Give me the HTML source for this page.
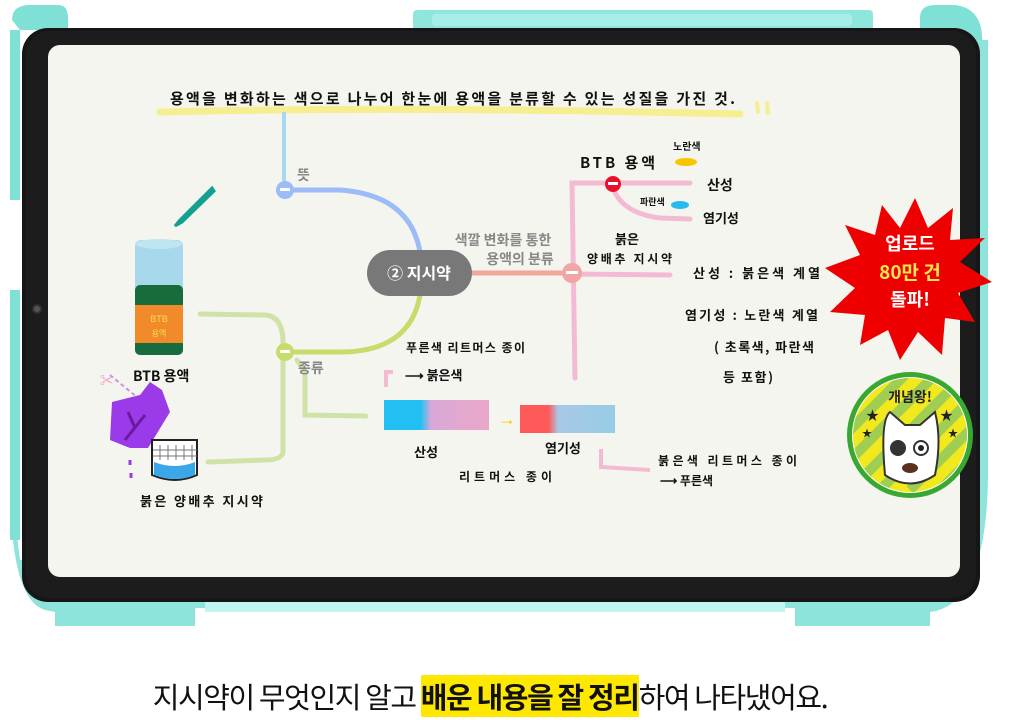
<!DOCTYPE html>
<html><head><meta charset="utf-8"><style>
body{margin:0;width:1030px;height:720px;background:#fff;overflow:hidden;font-family:"Liberation Sans","Noto Sans CJK KR",sans-serif;position:relative}
svg{position:absolute;left:0;top:0}
.h{font-family:"Noto Sans CJK KR","NanumGothic",sans-serif;fill:#111;font-weight:bold}
.g{font-family:"Noto Sans CJK KR",sans-serif;fill:#888;font-weight:bold}
#cap{position:absolute;left:0;width:980px;top:677px;text-align:center;font-family:"Noto Sans CJK KR",sans-serif;font-size:29px;letter-spacing:-1.4px;color:#111;line-height:38px;white-space:nowrap}
#cap b{background:#ffe800;font-weight:bold}
</style></head><body>
<svg width="1030" height="720" viewBox="0 0 1030 720">
<path d="M12 20 Q12 5 30 5 L58 5 Q68 5 68 18 L68 30 L20 30Z" fill="#7fe0d6"/>
<path d="M920 18 Q920 5 935 5 L955 5 Q980 8 982 35 L982 40 L920 40Z" fill="#7fe0d6"/>
<rect x="413" y="10" width="460" height="22" rx="4" fill="#8fe6dc"/>
<rect x="432" y="14" width="420" height="12" rx="3" fill="#a6efe7"/>
<path d="M10 480 Q10 600 45 610 L55 612 L55 626 L195 626 L195 608 L795 608 L795 626 L930 626 L930 612 Q988 605 988 470 L988 40 L970 40 L970 560 L20 560 Z" fill="#8ee3da"/>
<rect x="10" y="30" width="10" height="170" fill="#7fe0d6"/>
<rect x="10" y="290" width="10" height="250" fill="#7fe0d6"/>
<rect x="205" y="598" width="580" height="14" fill="#c3f5f0"/>
<rect x="22" y="28" width="958" height="574" rx="26" fill="#161616"/>
<rect x="26" y="31" width="950" height="567" rx="24" fill="#1c1c1c"/>
<circle cx="37" cy="309" r="4" fill="#555" stroke="#333" stroke-width="2"/>
<rect x="48" y="45" width="912" height="532" rx="12" fill="#f5f5f0"/>

<path d="M160 112 Q400 106 740 114" stroke="#f7ee92" stroke-width="7" fill="none" stroke-linecap="round"/>
<path d="M757 103 l1 9 M767 103 l1 10" stroke="#f7ee92" stroke-width="4" stroke-linecap="round"/>
<text x="170" y="104" class="h" font-size="15" textLength="565" lengthAdjust="spacing">용액을 변화하는 색으로  나누어  한눈에 용액을 분류할 수 있는 성질을 가진 것.</text>

<path d="M284 112 L284 188" stroke="#a8d8f0" stroke-width="4" fill="none"/>
<path d="M285 190 L340 190 Q410 195 420 252" stroke="#9bbcf7" stroke-width="5" fill="none"/>
<circle cx="285" cy="190" r="9" fill="#9bbcf7"/><rect x="280" y="188" width="10" height="3" fill="#fff"/>
<text x="297" y="180" class="g" font-size="14">뜻</text>
<path d="M420 295 Q410 352 340 352 L285 352" stroke="#c8dc6c" stroke-width="5" fill="none"/>
<path d="M200 314 L265 315 Q282 316 283 340 L283 452 Q282 460 265 460 L208 462 M297 360 L305 372 L305 415 L366 416" stroke="#cfe3a8" stroke-width="5" fill="none" stroke-linecap="round"/>
<circle cx="285" cy="352" r="9" fill="#c8dc6c"/><rect x="280" y="350" width="10" height="3" fill="#fff"/>
<text x="298" y="373" class="g" font-size="14">종류</text>
<rect x="367" y="250" width="105" height="46" rx="23" fill="#787878"/>
<text x="419" y="279" text-anchor="middle" fill="#fff" font-weight="bold" font-size="16" font-family="Noto Sans CJK KR,sans-serif">② 지시약</text>
<path d="M472 273 L572 273" stroke="#f2a59a" stroke-width="5"/>
<text x="503" y="245" text-anchor="middle" class="g" font-size="14">색깔 변화를 통한</text>
<text x="520" y="264" text-anchor="middle" class="g" font-size="14">용액의 분류</text>
<path d="M575 378 L572 183 L690 183 M612 185 Q620 213 660 218 L690 219 M572 274 L670 275" stroke="#f3bbd3" stroke-width="5" fill="none" stroke-linecap="round"/>
<circle cx="572" cy="273" r="10" fill="#f2a5a5"/><rect x="566" y="271" width="12" height="3" fill="#fff"/>
<circle cx="613" cy="184" r="8" fill="#e8102a"/><rect x="608" y="182" width="10" height="3" fill="#fff"/>
<text x="580" y="168" class="h" font-size="15" textLength="75" lengthAdjust="spacing">BTB 용액</text>
<text x="673" y="150" class="h" font-size="10">노란색</text>
<ellipse cx="686" cy="162" rx="11" ry="4" fill="#f8c600"/>
<text x="707" y="190" class="h" font-size="14">산성</text>
<text x="640" y="205" class="h" font-size="9">파란색</text>
<ellipse cx="680" cy="205" rx="9" ry="4" fill="#2ab8f0"/>
<text x="703" y="223" class="h" font-size="13">염기성</text>
<text x="615" y="244" class="h" font-size="13">붉은</text>
<text x="587" y="263" class="h" font-size="12" textLength="85" lengthAdjust="spacing">양배추 지시약</text>
<text x="693" y="278" class="h" font-size="13" textLength="127" lengthAdjust="spacing">산성 :  붉은색 계열</text>
<text x="685" y="320" class="h" font-size="13" textLength="133" lengthAdjust="spacing">염기성 : 노란색 계열</text>
<text x="714" y="352" class="h" font-size="13" textLength="100" lengthAdjust="spacing">( 초록색, 파란색</text>
<text x="723" y="382" class="h" font-size="13" textLength="50" lengthAdjust="spacing">등 포함)</text>
<text x="406" y="352" class="h" font-size="12" textLength="119" lengthAdjust="spacing">푸른색 리트머스 종이</text>
<text x="405" y="380" class="h" font-size="13">⟶ 붉은색</text>
<path d="M386 387 L386 372 L393 372" stroke="#f3bbd3" stroke-width="4" fill="none"/>
<defs>
<linearGradient id="b1" x1="0" x2="1"><stop offset="0.35" stop-color="#22c0f2"/><stop offset="0.45" stop-color="#d9a8d8"/><stop offset="1" stop-color="#eaa7c9"/></linearGradient>
<linearGradient id="b2" x1="0" x2="1"><stop offset="0.3" stop-color="#fe5a5a"/><stop offset="0.4" stop-color="#a8c8e6"/><stop offset="1" stop-color="#96cde6"/></linearGradient>
<clipPath id="bc"><circle cx="910" cy="435" r="57"/></clipPath>
</defs>
<rect x="384" y="400" width="105" height="30" fill="url(#b1)"/>
<text x="498" y="425" fill="#f8c600" font-size="18" font-weight="bold">→</text>
<rect x="520" y="405" width="95" height="28" fill="url(#b2)"/>
<text x="414" y="457" class="h" font-size="13">산성</text>
<text x="545" y="453" class="h" font-size="13">염기성</text>
<text x="459" y="481" class="h" font-size="12" textLength="93" lengthAdjust="spacing">리트머스 종이</text>
<path d="M601 449 L601 467 L650 470" stroke="#f3bbd3" stroke-width="4" fill="none"/>
<text x="658" y="465" class="h" font-size="12" textLength="139" lengthAdjust="spacing">붉은색 리트머스 종이</text>
<text x="660" y="485" class="h" font-size="12">⟶ 푸른색</text>
<path d="M212 188 L180 220 L175 226 L182 222 L214 191Z" fill="#14a08e" stroke="#14a08e" stroke-width="3"/>
<rect x="135" y="240" width="48" height="115" rx="6" fill="#a8d8ec"/>
<ellipse cx="159" cy="244" rx="23" ry="5" fill="#bfe5f3"/>
<rect x="135" y="285" width="48" height="70" rx="5" fill="#166c3c"/>
<rect x="135" y="305" width="48" height="38" fill="#f18a2a"/>
<text x="159" y="322" text-anchor="middle" fill="#f6e14a" font-size="9">BTB</text>
<text x="159" y="336" text-anchor="middle" fill="#f6e14a" font-size="8">용액</text>
<text x="133" y="381" class="h" font-size="14">BTB 용액</text>
<path d="M110 375 L165 420" stroke="#c890f0" stroke-width="2" stroke-dasharray="4 3"/>
<text x="100" y="385" fill="#f48fb0" font-size="13">✂</text>
<path d="M112 402 L140 395 L150 382 L162 390 L170 412 L148 448 L130 448 L110 440 Z" fill="#9a3ae8"/>
<path d="M125 440 L145 415 M135 428 L128 412" stroke="#6a1aa0" stroke-width="3"/>
<path d="M130 460 l0 5 M131 473 l0 5" stroke="#9a3ae8" stroke-width="3"/>
<path d="M152 440 L152 475 Q175 485 197 475 L197 440 Z" fill="#fff" stroke="#222" stroke-width="2"/>
<path d="M154 462 Q175 470 195 462 L195 475 Q175 483 154 475Z" fill="#3aa8e8"/>
<path d="M160 445 v15 M168 445 v15 M176 445 v15 M184 445 v15 M192 445 v15 M153 450 h44 M153 456 h44" stroke="#777" stroke-width="1"/>
<text x="140" y="506" class="h" font-size="13" textLength="123" lengthAdjust="spacing">붉은 양배추  지시약</text>
<polygon fill="#ee0000" points="915,198 928,228 953,208 950,240 985,238 960,262 992,282 958,293 975,322 945,318 942,355 918,332 900,360 888,330 860,345 865,315 830,312 855,288 825,268 860,255 845,225 875,235 882,205 900,228"/>
<text x="910" y="250" text-anchor="middle" fill="#fff" font-weight="bold" font-size="18" font-family="Noto Sans CJK KR,sans-serif">업로드</text>
<text x="910" y="279" text-anchor="middle" fill="#ffe84a" font-weight="bold" font-size="19" font-family="Noto Sans CJK KR,sans-serif">80만 건</text>
<text x="910" y="306" text-anchor="middle" fill="#fff" font-weight="bold" font-size="18" font-family="Noto Sans CJK KR,sans-serif">돌파!</text>
<circle cx="910" cy="435" r="63" fill="#3aa830"/>
<circle cx="910" cy="435" r="58" fill="#fff"/>
<g clip-path="url(#bc)">
<rect x="840" y="370" width="140" height="140" fill="#f2e81e"/>
<path d="M840 380 L900 320 M840 410 L930 320 M840 440 L960 320 M840 470 L990 320 M850 490 L990 350 M880 490 L990 380 M910 490 L990 410 M940 490 L990 440" stroke="#9fce52" stroke-width="10"/>
</g>
<text x="910" y="402" text-anchor="middle" fill="#222" font-weight="bold" font-size="14" font-family="Noto Sans CJK KR,sans-serif">개념왕!</text>
<text x="866" y="420" fill="#222" font-size="13">★</text><text x="940" y="420" fill="#222" font-size="13">★</text>
<text x="862" y="437" fill="#222" font-size="10">★</text><text x="948" y="437" fill="#222" font-size="10">★</text>
<path d="M885 475 Q880 420 890 412 L905 425 L920 425 L935 412 Q942 440 935 475 Q910 492 885 475Z" fill="#fff" stroke="#333" stroke-width="2"/>
<circle cx="898" cy="448" r="8" fill="#333"/><circle cx="921" cy="448" r="7" fill="#fff" stroke="#333" stroke-width="2"/><circle cx="921" cy="448" r="3" fill="#222"/>
<ellipse cx="910" cy="468" rx="8" ry="5" fill="#5a3020"/>
</svg>
<div id="cap">지시약이 무엇인지 알고 <b>배운 내용을 잘 정리</b>하여 나타냈어요.</div>
</body></html>
